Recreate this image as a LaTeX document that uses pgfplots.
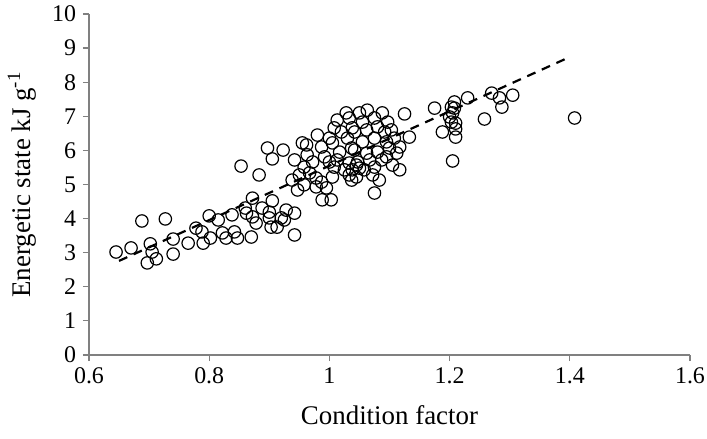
\documentclass[border=0pt]{standalone}
\usepackage{pgfplots}
\pgfplotsset{compat=1.18}
\usepackage{fontspec}
\setmainfont{Liberation Serif}
\begin{document}
\begin{tikzpicture}
\path[use as bounding box] (-44.5bp,-42bp) rectangle (309bp,177.5bp);
\begin{axis}[
  at={(0,0)}, anchor=south west,
  scale only axis, width=300.5bp, height=170.5bp,
  xmin=0.6, xmax=1.6, ymin=0, ymax=10,
  xtick={0.6,0.8,1,1.2,1.4,1.6},
  ytick={0,1,2,3,4,5,6,7,8,9,10},
  axis lines=left,
  axis line style={-, draw=black!50, line width=0.6bp},
  tick style={draw=black!50, line width=0.6bp},
  tick align=outside,
  major tick length=3bp,
  /pgf/number format/assume math mode=true,
  tick label style={font=\fontsize{12}{14}\selectfont},
  label style={font=\fontsize{13.5}{16}\selectfont},
  xlabel={Condition factor},
  ylabel={Energetic state kJ g\textsuperscript{-1}},
  xlabel style={yshift=-4bp},
  ylabel style={yshift=1bp},
  clip=false,
]
\addplot[only marks, mark=o, mark size=3.1bp, mark options={draw=black, fill=white, line width=0.6bp}] coordinates {
(0.645,3.02) (0.670,3.14) (0.688,3.93) (0.727,3.99) (0.702,3.26) (0.705,3.02)
(0.697,2.70) (0.712,2.82) (0.740,3.40) (0.740,2.96) (0.765,3.28) (0.778,3.72)
(0.788,3.61) (0.790,3.28) (0.802,3.43) (0.800,4.08) (0.815,3.96) (0.822,3.58)
(0.838,4.11) (0.828,3.43) (0.842,3.61) (0.847,3.43) (0.860,4.31) (0.872,4.60)
(0.870,3.46) (0.878,3.87) (0.872,4.05) (0.888,4.31) (0.900,4.19) (0.900,4.02)
(0.903,3.75) (0.913,3.75) (0.905,4.52) (0.920,4.02) (0.928,4.25) (0.925,3.96)
(0.942,4.16) (0.942,3.52) (0.862,4.16) (0.883,5.28) (0.853,5.54) (0.897,6.07)
(0.905,5.75) (0.923,6.01) (0.942,5.72) (0.955,6.22) (0.962,6.16) (0.963,5.87)
(0.980,6.45) (0.987,6.10) (0.992,5.81) (0.972,5.66) (0.958,5.51) (0.950,5.28)
(0.938,5.13) (0.947,4.84) (0.958,4.99) (0.967,5.34) (0.978,5.19) (0.987,5.07)
(0.978,4.93) (0.995,4.90) (0.988,4.55) (1.003,4.55) (1.005,5.22) (1.008,5.51)
(1.013,5.72) (1.017,5.95) (1.008,6.66) (1.013,6.89) (1.028,7.10) (1.033,6.95)
(1.030,6.36) (1.020,6.54) (1.038,6.66) (1.037,6.07) (1.033,5.63) (1.033,5.28)
(1.045,5.57) (1.000,6.36) (1.000,5.66) (1.025,5.43) (1.005,6.22) (1.050,5.48)
(1.050,7.10) (1.063,7.18) (1.055,6.83) (1.075,6.95) (1.088,7.10) (1.097,6.83)
(1.125,7.07) (1.042,6.54) (1.062,6.60) (1.080,6.69) (1.092,6.54) (1.103,6.60)
(1.108,6.36) (1.055,6.25) (1.075,6.36) (1.095,6.25) (1.117,6.10) (1.133,6.39)
(1.042,6.01) (1.062,5.92) (1.080,5.95) (1.100,6.07) (1.112,5.92) (1.047,5.66)
(1.067,5.72) (1.087,5.72) (1.038,5.43) (1.058,5.43) (1.075,5.51) (1.095,5.81)
(1.105,5.57) (1.117,5.43) (1.045,5.22) (1.072,5.28) (1.083,5.13) (1.075,4.75)
(1.037,5.13)
(1.175,7.24) (1.188,6.54) (1.200,6.98) (1.203,7.27) (1.208,7.42) (1.208,7.24)
(1.205,7.10) (1.203,6.83) (1.210,6.80) (1.210,6.63) (1.210,6.39) (1.205,5.69)
(1.230,7.54) (1.258,6.92) (1.270,7.68) (1.283,7.54) (1.287,7.27) (1.305,7.62)
(1.408,6.95)
};
\addplot[black, line width=1.1bp, dash pattern=on 4.5bp off 3.5bp] coordinates {(0.65,2.76) (1.40,8.74)};
\end{axis}
\end{tikzpicture}
\end{document}
